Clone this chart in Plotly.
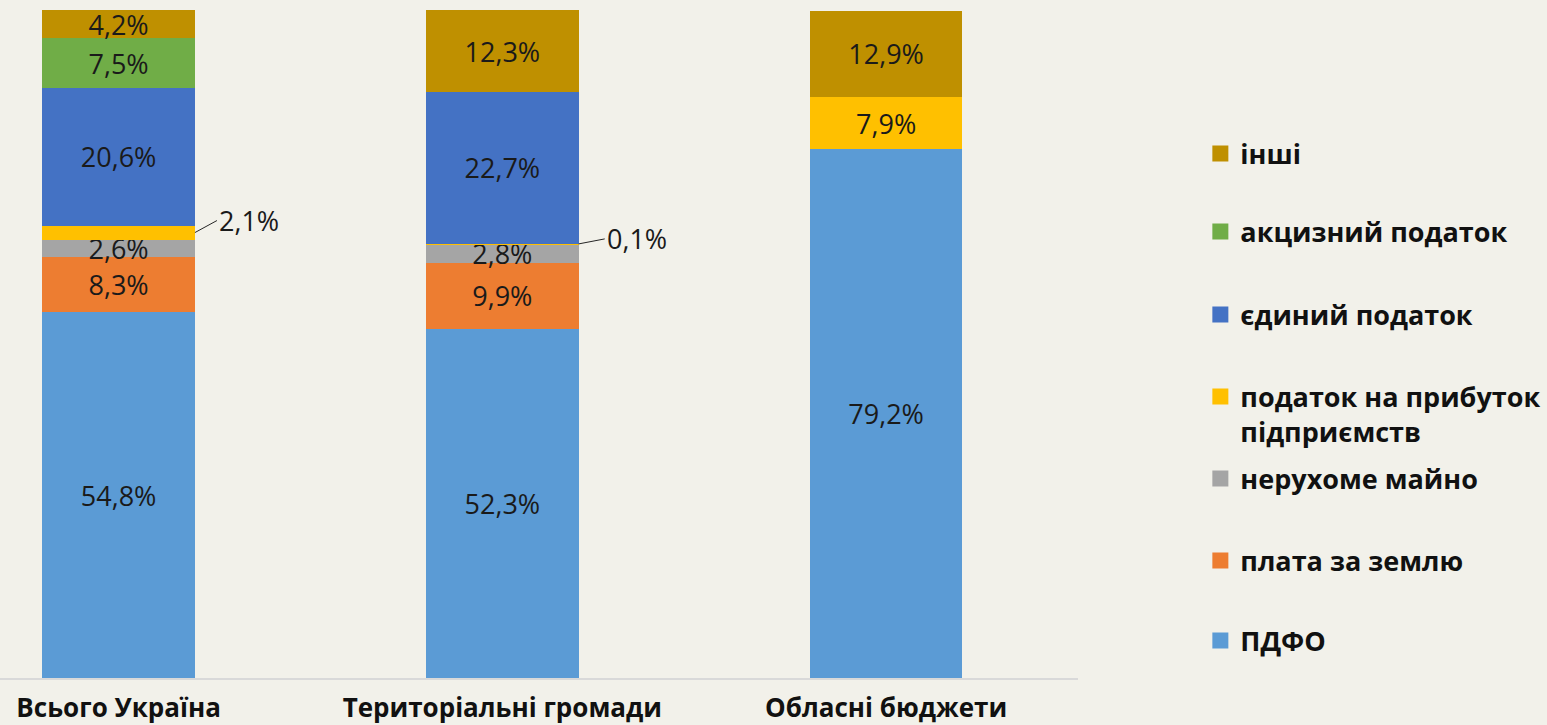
import plotly.graph_objects as go

categories = ["Всього Україна", "Територіальні громади", "Обласні бюджети"]

series_names = ["ПДФО", "плата за землю", "нерухоме майно",
                "податок на прибуток<br>підприємств", "єдиний податок",
                "акцизний податок", "інші"]
pdfo = [54.8, 52.3, 79.2]
plata_zemlia = [8.3, 9.9, None]
neruhome = [2.6, 2.8, None]
prybutok = [2.1, 0.1, 7.9]
edynyi = [20.6, 22.7, None]
akcyz = [7.5, None, None]
inshi = [4.2, 12.3, 12.9]

series_values = [pdfo, plata_zemlia, neruhome, prybutok, edynyi, akcyz, inshi]
colors = ["#5B9BD5", "#ED7D31", "#A5A5A5", "#FFC000", "#4472C4", "#70AD47", "#BF9000"]

# legend row centres (paper y) for each series
legend_y = [0.0554, 0.1751, 0.2979, 0.3945, 0.5434, 0.6677, 0.7844]

BAR_W = 0.398
FONT = "Open Sans"


def fmt(v):
    return ("%.1f%%" % v).replace(".", ",")


fig = go.Figure()
for i, (name, vals, col) in enumerate(zip(series_names, series_values, colors)):
    texts = []
    for v in vals:
        if v is None or v < 1.0:
            texts.append("")
        elif name.startswith("податок") and v < 2.5:
            texts.append("")
        else:
            texts.append(fmt(v))
    fig.add_trace(go.Bar(
        x=categories, y=vals, name=name, width=BAR_W,
        marker=dict(color=col, line=dict(width=0)),
        text=texts, textposition="inside", insidetextanchor="middle",
        constraintext="none",
        textfont=dict(family=FONT, size=27, color="#1a1a1a"),
        showlegend=False,
        hoverinfo="skip",
    ))

# legend entries (square swatches)
for i, (name, col) in enumerate(zip(series_names, colors)):
    fig.add_trace(go.Scatter(
        x=[None], y=[None], mode="markers", name=name,
        marker=dict(symbol="square", size=16, color=col),
        legend="legend" if i == 0 else "legend%d" % (i + 1),
        showlegend=True, hoverinfo="skip",
    ))

# outside labels with leader lines for the thin segments
for ci, lbl_ax, lbl_ay in [(0, 22, -12), (1, 26, -5)]:
    below = sum((s[ci] or 0) for s in series_values[:3])
    v = prybutok[ci]
    fig.add_annotation(
        x=ci + BAR_W / 2, y=below + v / 2, xref="x", yref="y",
        text=fmt(v), showarrow=True, arrowhead=0, arrowwidth=1,
        arrowcolor="#262626", ax=lbl_ax, ay=lbl_ay, xanchor="left",
        font=dict(family=FONT, size=27, color="#1a1a1a"),
    )

layout_legends = {}
for i, y in enumerate(legend_y):
    key = "legend" if i == 0 else "legend%d" % (i + 1)
    layout_legends[key] = dict(
        x=1.1135, xanchor="left", y=y, yanchor="middle",
        bgcolor="rgba(0,0,0,0)", borderwidth=0, valign="top",
        font=dict(family=FONT, size=27, color="#111111", weight="bold"),
    )

fig.update_layout(
    barmode="stack",
    showlegend=True,
    width=1547, height=725,
    margin=dict(l=0, r=469, t=10, b=47),
    paper_bgcolor="#f2f1ea", plot_bgcolor="rgba(0,0,0,0)",
    separators=", ",
    uniformtext=dict(minsize=27, mode="show"),
    xaxis=dict(
        range=[-0.309, 2.5], showgrid=False, zeroline=False,
        showline=True, linecolor="#d9d9d9", linewidth=2,
        ticks="", ticklabelstandoff=6, automargin=False,
        tickfont=dict(family=FONT, size=26, color="#111111", weight="bold"),
    ),
    yaxis=dict(range=[0, 100.1], visible=False, showgrid=False),
    **layout_legends,
)

fig.write_html(
    "out.html",
    config={"displayModeBar": False},
    post_script="document.body.style.margin='0';document.body.style.overflow='hidden';",
)
